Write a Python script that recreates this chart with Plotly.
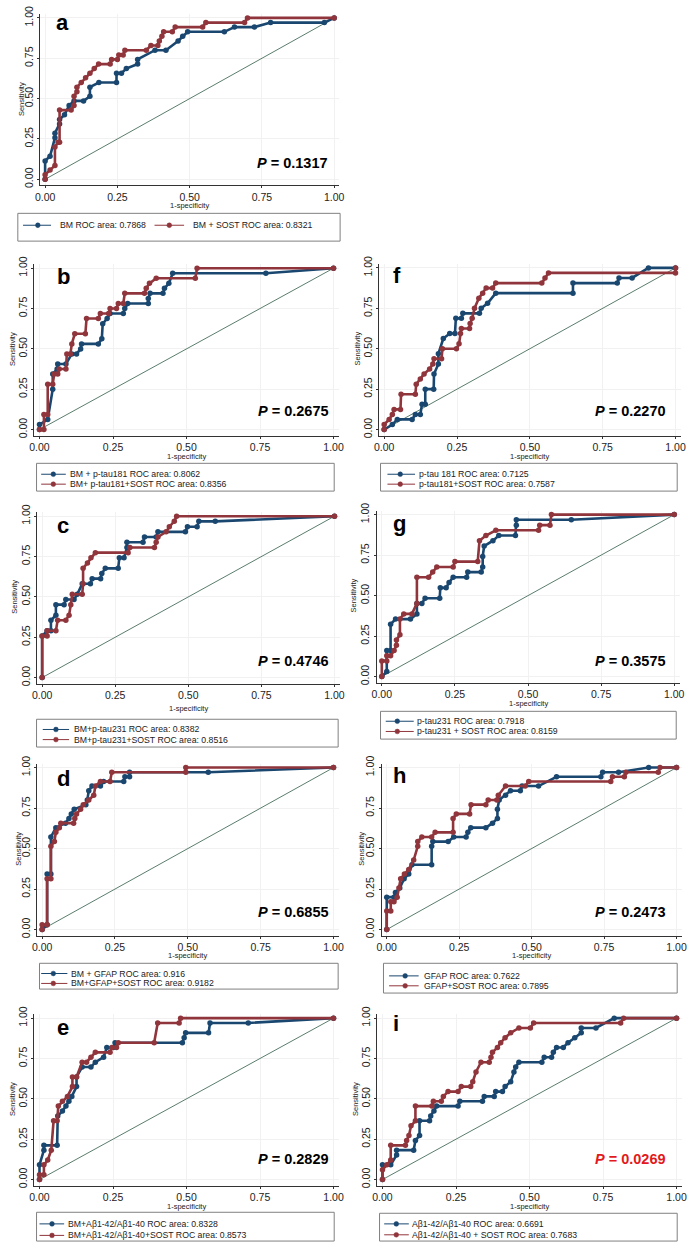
import plotly.graph_objects as go

W, H = 696, 1249
NAVY = '#1a476f'
MAROON = '#90353b'
REFC = '#5a7d6c'
FONT = 'Liberation Sans, Arial, sans-serif'

# ---------------- data (ROC vertices) ----------------
REF_X = [0, 1]
REF_Y = [0, 1]
TICKS = [0, 0.25, 0.5, 0.75, 1.0]
TICK_TEXT = ['0.00', '0.25', '0.50', '0.75', '1.00']

a_blue_x = [0, 0, 0.017, 0.034, 0.034, 0.05, 0.05, 0.067, 0.083, 0.1, 0.133, 0.155, 0.155, 0.186, 0.247, 0.247, 0.264, 0.281, 0.32, 0.32, 0.38, 0.418, 0.46, 0.476, 0.493, 0.62, 0.655, 0.724, 0.78, 0.966, 1]
a_blue_y = [0, 0.114, 0.143, 0.257, 0.286, 0.343, 0.371, 0.4, 0.457, 0.486, 0.486, 0.514, 0.571, 0.6, 0.6, 0.657, 0.657, 0.686, 0.714, 0.743, 0.8, 0.8, 0.857, 0.886, 0.914, 0.914, 0.943, 0.943, 0.971, 0.971, 1]
a_red_x = [0, 0, 0.017, 0.034, 0.034, 0.045, 0.05, 0.05, 0.09, 0.1, 0.1, 0.11, 0.11, 0.125, 0.14, 0.155, 0.17, 0.185, 0.225, 0.23, 0.25, 0.255, 0.27, 0.276, 0.35, 0.366, 0.39, 0.395, 0.404, 0.41, 0.44, 0.45, 0.545, 0.556, 0.69, 0.70, 1]
a_red_y = [0, 0.029, 0.057, 0.086, 0.2, 0.229, 0.229, 0.429, 0.429, 0.457, 0.514, 0.543, 0.571, 0.6, 0.629, 0.657, 0.686, 0.714, 0.714, 0.743, 0.743, 0.771, 0.771, 0.8, 0.8, 0.829, 0.829, 0.857, 0.886, 0.914, 0.914, 0.943, 0.943, 0.971, 0.971, 1.0, 1]

b_blue_x = [0, 0, 0.028, 0.045, 0.045, 0.06, 0.062, 0.09, 0.11, 0.126, 0.14, 0.143, 0.2, 0.212, 0.215, 0.23, 0.24, 0.285, 0.29, 0.30, 0.37, 0.37, 0.376, 0.42, 0.425, 0.44, 0.453, 0.77, 1]
b_blue_y = [0, 0.031, 0.063, 0.25, 0.344, 0.375, 0.406, 0.406, 0.469, 0.469, 0.5, 0.531, 0.531, 0.563, 0.656, 0.688, 0.719, 0.719, 0.75, 0.781, 0.781, 0.813, 0.844, 0.844, 0.875, 0.906, 0.969, 0.969, 1]
b_red_x = [0, 0.015, 0.015, 0.028, 0.028, 0.045, 0.05, 0.062, 0.067, 0.09, 0.093, 0.105, 0.11, 0.12, 0.156, 0.16, 0.2, 0.207, 0.235, 0.24, 0.262, 0.268, 0.285, 0.29, 0.357, 0.363, 0.374, 0.397, 0.53, 0.536, 1]
b_red_y = [0, 0, 0.094, 0.094, 0.281, 0.281, 0.344, 0.344, 0.375, 0.375, 0.469, 0.469, 0.531, 0.594, 0.594, 0.688, 0.688, 0.719, 0.719, 0.75, 0.75, 0.781, 0.781, 0.844, 0.844, 0.875, 0.906, 0.938, 0.938, 1, 1]

c_blue_x = [0, 0, 0.017, 0.03, 0.03, 0.047, 0.047, 0.075, 0.081, 0.109, 0.12, 0.137, 0.165, 0.171, 0.2, 0.204, 0.216, 0.26, 0.264, 0.28, 0.29, 0.29, 0.345, 0.35, 0.39, 0.396, 0.49, 0.497, 0.53, 0.536, 0.592, 1]
c_blue_y = [0, 0.258, 0.29, 0.29, 0.355, 0.387, 0.452, 0.452, 0.484, 0.484, 0.516, 0.581, 0.581, 0.613, 0.613, 0.645, 0.677, 0.677, 0.742, 0.742, 0.806, 0.839, 0.839, 0.871, 0.871, 0.903, 0.903, 0.935, 0.935, 0.968, 0.968, 1]
c_red_x = [0, 0, 0.017, 0.017, 0.047, 0.053, 0.081, 0.092, 0.098, 0.103, 0.137, 0.14, 0.14, 0.155, 0.167, 0.182, 0.294, 0.3, 0.384, 0.39, 0.396, 0.424, 0.435, 0.452, 0.46, 1]
c_red_y = [0, 0.258, 0.258, 0.29, 0.29, 0.355, 0.355, 0.387, 0.452, 0.516, 0.516, 0.581, 0.677, 0.71, 0.742, 0.774, 0.774, 0.806, 0.806, 0.839, 0.871, 0.903, 0.935, 0.968, 1, 1]

d_blue_x = [0, 0.017, 0.017, 0.03, 0.03, 0.047, 0.08, 0.092, 0.1, 0.11, 0.15, 0.155, 0.16, 0.171, 0.2, 0.211, 0.28, 0.284, 0.3, 0.3, 0.57, 1]
d_blue_y = [0, 0.029, 0.343, 0.343, 0.571, 0.629, 0.657, 0.686, 0.714, 0.743, 0.771, 0.8, 0.857, 0.886, 0.886, 0.914, 0.914, 0.943, 0.943, 0.971, 0.971, 1]
d_red_x = [0, 0, 0.017, 0.017, 0.03, 0.03, 0.042, 0.047, 0.059, 0.064, 0.108, 0.112, 0.118, 0.132, 0.141, 0.16, 0.177, 0.183, 0.2, 0.233, 0.239, 0.493, 0.493, 1]
d_red_y = [0, 0.029, 0.029, 0.314, 0.314, 0.514, 0.543, 0.6, 0.629, 0.657, 0.657, 0.686, 0.714, 0.743, 0.771, 0.8, 0.829, 0.886, 0.914, 0.914, 0.971, 0.971, 1, 1]

e_blue_x = [0, 0, 0.015, 0.015, 0.06, 0.062, 0.078, 0.09, 0.1, 0.11, 0.126, 0.126, 0.145, 0.175, 0.19, 0.218, 0.229, 0.251, 0.257, 0.486, 0.492, 0.497, 0.575, 0.58, 0.71, 1]
e_blue_y = [0, 0.091, 0.182, 0.212, 0.212, 0.394, 0.424, 0.455, 0.485, 0.515, 0.576, 0.636, 0.697, 0.697, 0.727, 0.758, 0.818, 0.818, 0.848, 0.848, 0.879, 0.909, 0.909, 0.97, 0.97, 1]
e_red_x = [0, 0, 0.015, 0.015, 0.028, 0.04, 0.048, 0.06, 0.064, 0.078, 0.095, 0.112, 0.112, 0.126, 0.145, 0.16, 0.175, 0.19, 0.24, 0.246, 0.262, 0.268, 0.39, 0.402, 0.475, 0.48, 1]
e_red_y = [0, 0.03, 0.03, 0.091, 0.121, 0.182, 0.364, 0.364, 0.455, 0.485, 0.515, 0.576, 0.636, 0.636, 0.727, 0.727, 0.758, 0.788, 0.788, 0.818, 0.818, 0.848, 0.848, 0.97, 0.97, 1, 1]

f_blue_x = [0, 0.028, 0.045, 0.096, 0.107, 0.124, 0.13, 0.141, 0.141, 0.17, 0.171, 0.186, 0.186, 0.203, 0.225, 0.243, 0.246, 0.265, 0.27, 0.327, 0.333, 0.355, 0.383, 0.648, 0.648, 0.80, 0.806, 0.851, 0.907, 1]
f_blue_y = [0, 0.031, 0.063, 0.063, 0.094, 0.094, 0.156, 0.156, 0.25, 0.25, 0.344, 0.406, 0.469, 0.563, 0.594, 0.594, 0.688, 0.688, 0.719, 0.719, 0.75, 0.781, 0.844, 0.844, 0.906, 0.906, 0.938, 0.938, 1, 1]
f_red_x = [0, 0, 0.017, 0.028, 0.034, 0.056, 0.058, 0.107, 0.11, 0.124, 0.137, 0.156, 0.167, 0.171, 0.197, 0.2, 0.248, 0.257, 0.262, 0.265, 0.293, 0.295, 0.302, 0.31, 0.325, 0.338, 0.35, 0.372, 0.383, 0.541, 0.552, 0.564, 1, 1]
f_red_y = [0, 0.031, 0.063, 0.094, 0.125, 0.125, 0.219, 0.219, 0.281, 0.313, 0.344, 0.375, 0.406, 0.438, 0.438, 0.5, 0.5, 0.531, 0.594, 0.625, 0.625, 0.656, 0.688, 0.75, 0.813, 0.844, 0.875, 0.875, 0.906, 0.906, 0.938, 0.969, 0.969, 1]

g_blue_x = [0, 0.017, 0.017, 0.03, 0.03, 0.047, 0.098, 0.12, 0.12, 0.137, 0.148, 0.198, 0.2, 0.22, 0.23, 0.244, 0.29, 0.294, 0.34, 0.345, 0.345, 0.35, 0.38, 0.4, 0.457, 0.46, 0.46, 0.648, 1]
g_blue_y = [0, 0.032, 0.161, 0.161, 0.323, 0.355, 0.355, 0.387, 0.452, 0.452, 0.484, 0.484, 0.548, 0.548, 0.581, 0.613, 0.613, 0.645, 0.645, 0.677, 0.742, 0.806, 0.839, 0.871, 0.871, 0.935, 0.968, 0.968, 1]
g_red_x = [0, 0, 0.017, 0.017, 0.03, 0.042, 0.05, 0.05, 0.062, 0.062, 0.075, 0.103, 0.12, 0.12, 0.16, 0.174, 0.188, 0.244, 0.25, 0.328, 0.334, 0.356, 0.39, 0.536, 0.54, 0.575, 0.58, 1]
g_red_y = [0, 0.097, 0.097, 0.129, 0.129, 0.161, 0.194, 0.226, 0.258, 0.355, 0.387, 0.387, 0.452, 0.613, 0.613, 0.645, 0.677, 0.677, 0.71, 0.71, 0.839, 0.871, 0.903, 0.903, 0.935, 0.935, 1, 1]

h_blue_x = [0, 0, 0.025, 0.03, 0.045, 0.06, 0.076, 0.087, 0.155, 0.155, 0.159, 0.212, 0.231, 0.274, 0.28, 0.29, 0.342, 0.365, 0.382, 0.382, 0.388, 0.41, 0.427, 0.461, 0.467, 0.524, 0.586, 0.739, 0.745, 0.80, 0.904, 1]
h_blue_y = [0, 0.2, 0.2, 0.229, 0.257, 0.314, 0.343, 0.4, 0.4, 0.514, 0.543, 0.543, 0.571, 0.571, 0.6, 0.629, 0.629, 0.657, 0.686, 0.743, 0.8, 0.829, 0.857, 0.857, 0.886, 0.886, 0.943, 0.943, 0.971, 0.971, 1, 1]
h_red_x = [0, 0, 0.014, 0.014, 0.025, 0.036, 0.042, 0.048, 0.061, 0.076, 0.093, 0.107, 0.107, 0.121, 0.155, 0.167, 0.229, 0.229, 0.24, 0.286, 0.291, 0.342, 0.35, 0.38, 0.385, 0.41, 0.478, 0.49, 0.773, 0.779, 0.82, 0.825, 0.937, 0.943, 1]
h_red_y = [0, 0.114, 0.114, 0.171, 0.171, 0.2, 0.257, 0.314, 0.343, 0.371, 0.429, 0.514, 0.543, 0.571, 0.571, 0.6, 0.6, 0.686, 0.714, 0.714, 0.771, 0.771, 0.8, 0.8, 0.829, 0.886, 0.886, 0.914, 0.914, 0.943, 0.943, 0.971, 0.971, 1, 1]

i_blue_x = [0, 0, 0.028, 0.048, 0.048, 0.106, 0.112, 0.126, 0.126, 0.16, 0.164, 0.175, 0.184, 0.257, 0.263, 0.34, 0.346, 0.38, 0.385, 0.408, 0.417, 0.436, 0.447, 0.453, 0.464, 0.542, 0.55, 0.575, 0.581, 0.592, 0.615, 0.631, 0.654, 0.676, 0.676, 0.726, 0.788, 1]
i_blue_y = [0, 0.091, 0.091, 0.152, 0.182, 0.182, 0.242, 0.273, 0.364, 0.364, 0.394, 0.424, 0.455, 0.455, 0.485, 0.485, 0.515, 0.515, 0.545, 0.545, 0.576, 0.606, 0.667, 0.697, 0.727, 0.727, 0.758, 0.758, 0.788, 0.818, 0.818, 0.848, 0.879, 0.909, 0.939, 0.939, 1, 1]
i_red_x = [0, 0, 0.015, 0.028, 0.028, 0.078, 0.082, 0.09, 0.097, 0.112, 0.112, 0.168, 0.173, 0.2, 0.207, 0.223, 0.257, 0.268, 0.3, 0.307, 0.318, 0.335, 0.363, 0.369, 0.374, 0.391, 0.402, 0.417, 0.436, 0.464, 0.503, 0.514, 0.81, 0.82, 1]
i_red_y = [0, 0.061, 0.091, 0.121, 0.212, 0.212, 0.242, 0.273, 0.333, 0.364, 0.455, 0.455, 0.485, 0.485, 0.515, 0.545, 0.545, 0.576, 0.576, 0.606, 0.667, 0.727, 0.727, 0.758, 0.788, 0.818, 0.848, 0.879, 0.909, 0.939, 0.939, 0.97, 0.97, 1, 1]

letters = ['a', 'b', 'f', 'c', 'g', 'd', 'h', 'e', 'i']
p_values = ['0.1317', '0.2675', '0.2270', '0.4746', '0.3575', '0.6855', '0.2473', '0.2829', '0.0269']
legend_blue = ['BM ROC area: 0.7868', 'BM + p-tau181 ROC area: 0.8062', 'p-tau 181 ROC area: 0.7125',
               'BM+p-tau231 ROC area: 0.8382', 'p-tau231 ROC area: 0.7918', 'BM + GFAP ROC area: 0.916',
               'GFAP ROC area: 0.7622', 'BM+Aβ1-42/Aβ1-40 ROC area: 0.8328', 'Aβ1-42/Aβ1-40 ROC area: 0.6691']
legend_red = ['BM + SOST ROC area: 0.8321', 'BM+ p-tau181+SOST ROC area: 0.8356', 'p-tau181+SOST ROC area: 0.7587',
              'BM+p-tau231+SOST ROC area: 0.8516', 'p-tau231 + SOST ROC area: 0.8159', 'BM+GFAP+SOST ROC area: 0.9182',
              'GFAP+SOST ROC area: 0.7895', 'BM+Aβ1-42/Aβ1-40+SOST ROC area: 0.8573', 'Aβ1-42/Aβ1-40 + SOST ROC area: 0.7683']
curves_blue = [(a_blue_x, a_blue_y), (b_blue_x, b_blue_y), (f_blue_x, f_blue_y), (c_blue_x, c_blue_y),
               (g_blue_x, g_blue_y), (d_blue_x, d_blue_y), (h_blue_x, h_blue_y), (e_blue_x, e_blue_y),
               (i_blue_x, i_blue_y)]
curves_red = [(a_red_x, a_red_y), (b_red_x, b_red_y), (f_red_x, f_red_y), (c_red_x, c_red_y),
              (g_red_x, g_red_y), (d_red_x, d_red_y), (h_red_x, h_red_y), (e_red_x, e_red_y),
              (i_red_x, i_red_y)]

# ---------------- layout (pixel geometry) ----------------
PANELS = [
    dict(x0=40.7, x1=334.0, y0=172.7, y1=10.0, let=(58.7, 14.7), pv=(330, 156.7), xt=199.5, yt=16.7,
         box=(13, 207, 340, 235), rows=[(219, 18.3, 46.7, 33.3, 53.3, 0), (219, 151.7, 181.7, 166.7, 188.3, 1)]),
    dict(x0=35.0, x1=333.3, y0=425.0, y1=262.3, let=(59.3, 270.7), pv=(331, 406.7), xt=452.5, yt=8.3,
         box=(32, 459, 334, 487), rows=[(470, 36.7, 61.7, 49, 64, 0), (480, 36.7, 61.7, 49, 64, 1)]),
    dict(x0=384.7, x1=680.3, y0=425.0, y1=262.0, let=(397.3, 269.3), pv=(672.3, 406.7), xt=452.5, yt=358,
         box=(381, 459, 682, 487), rows=[(470, 388, 416, 401, 418, 0), (480, 388, 416, 401, 418, 1)]),
    dict(x0=37.7, x1=334.3, y0=675.0, y1=512.3, let=(59.0, 522), pv=(331, 658.3), xt=706, yt=10,
         box=(32, 717, 338, 745), rows=[(727.3, 38.3, 65, 51.7, 68.3, 0), (737.5, 38.3, 65, 51.7, 68.3, 1)]),
    dict(x0=382.3, x1=679.0, y0=674.0, y1=510.7, let=(400.7, 519.3), pv=(672.3, 658.3), xt=701.5, yt=354,
         box=(381, 709, 681, 737), rows=[(719, 386.3, 414.7, 398, 416.3, 0), (729.3, 386.3, 414.7, 398, 416.3, 1)]),
    dict(x0=37.7, x1=333.3, y0=929.0, y1=765.7, let=(59.3, 776.7), pv=(331, 911.7), xt=955.5, yt=13.3,
         box=(35, 963, 338, 989), rows=[(973.3, 36.7, 63.3, 49, 65, 0), (983.3, 36.7, 63.3, 49, 65, 1)]),
    dict(x0=387.3, x1=681.3, y0=929.0, y1=765.7, let=(400.3, 773.3), pv=(672.3, 911.7), xt=955.5, yt=361.3,
         box=(384, 963, 682, 993), rows=[(975.7, 389.7, 419.7, 406, 423, 0), (985.7, 389.7, 419.7, 406, 423, 1)]),
    dict(x0=35.0, x1=333.3, y0=1181.0, y1=1018.3, let=(58.7, 1028), pv=(331, 1160), xt=1208.5, yt=8.3,
         box=(32, 1214, 334, 1243), rows=[(1225.7, 35, 60, 47.7, 61.7, 0), (1237.3, 35, 60, 47.7, 61.7, 1)]),
    dict(x0=383.0, x1=681.3, y0=1181.0, y1=1018.3, let=(397.0, 1023.3), pv=(672.3, 1160), xt=1208.5, yt=356.3,
         box=(380, 1215, 682, 1243), rows=[(1225.7, 384.7, 409.7, 397, 411.3, 0), (1236.7, 384.7, 409.7, 397, 411.3, 1)]),
]
XMIN, XMAX = -0.018, 1.018
YMIN, YMAX = -0.038, 1.025


def px(x):
    return x / W


def py(y):
    return 1 - y / H


fig = go.Figure()
layout = dict(width=W, height=H, margin=dict(l=0, r=0, t=0, b=0, pad=0), paper_bgcolor='white',
              plot_bgcolor='white', showlegend=False, font=dict(family=FONT, color='#222'))
annotations = []
shapes = []

for k, p in enumerate(PANELS, start=1):
    sx = p['x1'] - p['x0']
    sy = p['y0'] - p['y1']
    xdom = [px(p['x0'] + XMIN * sx), px(p['x1'] + (XMAX - 1) * sx)]
    bottom = p['y0'] - YMIN * sy
    top = p['y1'] - (YMAX - 1) * sy
    ydom = [py(bottom), py(top)]
    xn = 'xaxis' if k == 1 else f'xaxis{k}'
    yn = 'yaxis' if k == 1 else f'yaxis{k}'
    xr = 'x' if k == 1 else f'x{k}'
    yr = 'y' if k == 1 else f'y{k}'
    common = dict(showline=True, linecolor='#333', linewidth=1, ticks='outside', ticklen=2,
                  tickcolor='#333', tickwidth=1, zeroline=False, showgrid=True, gridcolor='#f1f1f1',
                  tickvals=TICKS, ticktext=TICK_TEXT, tickfont=dict(size=10.5, color='#222', family=FONT),
                  fixedrange=True)
    layout[xn] = dict(domain=xdom, range=[XMIN, XMAX], anchor=yr, **common)
    layout[yn] = dict(domain=ydom, range=[YMIN, YMAX], anchor=xr, tickangle=-90, **common)

    fig.add_trace(go.Scatter(x=REF_X, y=REF_Y, mode='lines', line=dict(color=REFC, width=1),
                             xaxis=xr, yaxis=yr, hoverinfo='skip'))
    bx, by = curves_blue[k - 1]
    rx, ry = curves_red[k - 1]
    fig.add_trace(go.Scatter(x=bx, y=by, mode='lines+markers', line=dict(color=NAVY, width=2.6),
                             marker=dict(size=5.5, color=NAVY), xaxis=xr, yaxis=yr, cliponaxis=False))
    fig.add_trace(go.Scatter(x=rx, y=ry, mode='lines+markers', line=dict(color=MAROON, width=2.6),
                             marker=dict(size=5.5, color=MAROON), xaxis=xr, yaxis=yr, cliponaxis=False))

    annotations.append(dict(x=px(p['let'][0]), y=py(p['let'][1]), xref='paper', yref='paper',
                            text=f'<b>{letters[k - 1]}</b>', showarrow=False, xanchor='center',
                            yanchor='middle', font=dict(size=22, color='black', family=FONT)))
    pcol = '#e31a1c' if letters[k - 1] == 'i' else 'black'
    annotations.append(dict(x=px(p['pv'][0]), y=py(p['pv'][1]), xref='paper', yref='paper',
                            text=f'<b><i>P</i> = {p_values[k - 1]}</b>', showarrow=False,
                            xanchor='right', yanchor='middle', font=dict(size=14.5, color=pcol, family=FONT)))
    annotations.append(dict(x=px((p['x0'] + p['x1']) / 2), y=py(p['xt']), xref='paper', yref='paper',
                            text='1-specificity', showarrow=False, xanchor='center', yanchor='middle',
                            font=dict(size=7.5, color='#222', family=FONT)))
    annotations.append(dict(x=px(p['yt']), y=py((p['y0'] + p['y1']) / 2), xref='paper', yref='paper',
                            text='Sensitivity', showarrow=False, textangle=-90, xanchor='center',
                            yanchor='middle', font=dict(size=7.5, color='#222', family=FONT)))
    bx0, by0, bx1, by1 = p['box']
    shapes.append(dict(type='rect', xref='paper', yref='paper', x0=px(bx0), x1=px(bx1), y0=py(by1),
                       y1=py(by0), line=dict(color='#808080', width=1), fillcolor='white', layer='below'))
    for (ry_, sx0, sx1, dx, tx, which) in p['rows']:
        col = NAVY if which == 0 else MAROON
        txt = legend_blue[k - 1] if which == 0 else legend_red[k - 1]
        shapes.append(dict(type='line', xref='paper', yref='paper', x0=px(sx0), x1=px(sx1),
                           y0=py(ry_), y1=py(ry_), line=dict(color=col, width=1)))
        shapes.append(dict(type='circle', xref='paper', yref='paper', x0=px(dx - 2.4), x1=px(dx + 2.4),
                           y0=py(ry_ + 2.4), y1=py(ry_ - 2.4), line=dict(color=col, width=0.5),
                           fillcolor=col))
        annotations.append(dict(x=px(tx), y=py(ry_), xref='paper', yref='paper', text=txt,
                                showarrow=False, xanchor='left', yanchor='middle',
                                font=dict(size=8.7, color='#222', family=FONT)))

layout['annotations'] = annotations
layout['shapes'] = shapes
fig.update_layout(**layout)
fig.write_html('out.html', config={'displayModeBar': False},
               post_script="document.body.style.margin='0';document.body.style.overflow='hidden';")
